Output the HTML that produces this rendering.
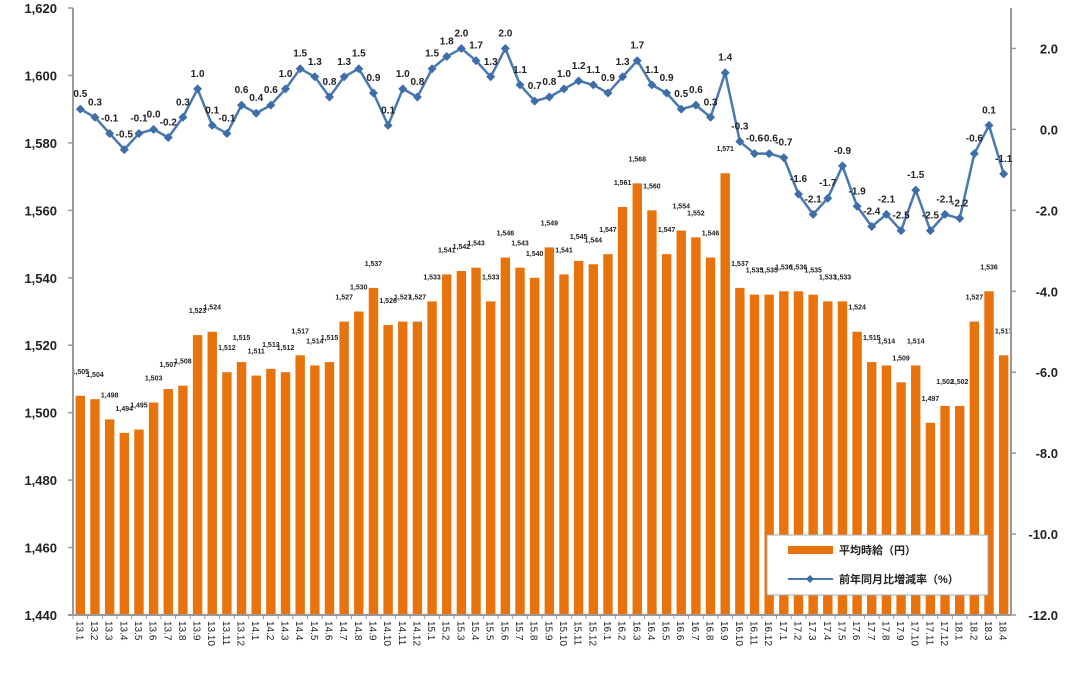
<!DOCTYPE html>
<html><head><meta charset="utf-8"><style>
body{margin:0;background:#fff;}
svg{display:block;font-family:"Liberation Sans","Noto Sans CJK JP",sans-serif;}
</style></head><body>
<svg id="c" width="1065" height="693"></svg>
<script>
const categories=["13.1","13.2","13.3","13.4","13.5","13.6","13.7","13.8","13.9","13.10","13.11","13.12","14.1","14.2","14.3","14.4","14.5","14.6","14.7","14.8","14.9","14.10","14.11","14.12","15.1","15.2","15.3","15.4","15.5","15.6","15.7","15.8","15.9","15.10","15.11","15.12","16.1","16.2","16.3","16.4","16.5","16.6","16.7","16.8","16.9","16.10","16.11","16.12","17.1","17.2","17.3","17.4","17.5","17.6","17.7","17.8","17.9","17.10","17.11","17.12","18.1","18.2","18.3","18.4"];
const wages=[1505,1504,1498,1494,1495,1503,1507,1508,1523,1524,1512,1515,1511,1513,1512,1517,1514,1515,1527,1530,1537,1526,1527,1527,1533,1541,1542,1543,1533,1546,1543,1540,1549,1541,1545,1544,1547,1561,1568,1560,1547,1554,1552,1546,1571,1537,1535,1535,1536,1536,1535,1533,1533,1524,1515,1514,1509,1514,1497,1502,1502,1527,1536,1517];
const rates=[0.5,0.3,-0.1,-0.5,-0.1,0.0,-0.2,0.3,1.0,0.1,-0.1,0.6,0.4,0.6,1.0,1.5,1.3,0.8,1.3,1.5,0.9,0.1,1.0,0.8,1.5,1.8,2.0,1.7,1.3,2.0,1.1,0.7,0.8,1.0,1.2,1.1,0.9,1.3,1.7,1.1,0.9,0.5,0.6,0.3,1.4,-0.3,-0.6,-0.6,-0.7,-1.6,-2.1,-1.7,-0.9,-1.9,-2.4,-2.1,-2.5,-1.5,-2.5,-2.1,-2.2,-0.6,0.1,-1.1];
const leftTicks=[1440,1460,1480,1500,1520,1540,1560,1580,1600,1620];
const rightTicks=[2,0,-2,-4,-6,-8,-10,-12];

const X0=73,X1=1011,Y0=615,Y1=8;
const band=(X1-X0)/categories.length;
const xc=i=>X0+band*(i+0.5);
const yL=v=>Y0-(v-1440)/(1620-1440)*(Y0-Y1);
const yR=v=>Y0-(v+12)/(15)*(Y0-Y1);
const svg=document.getElementById('c');
const NS='http://www.w3.org/2000/svg';
function mk(t,a,txt){const e=document.createElementNS(NS,t);for(const k in a)e.setAttribute(k,a[k]);if(txt!=null)e.textContent=txt;svg.appendChild(e);return e;}
const fmt=v=>v.toLocaleString('en-US');

// bars
wages.forEach((v,i)=>{
  const r=mk('rect',{x:xc(i)-4.7,y:yL(v),width:9.4,height:Y0-yL(v),fill:'#e8720c'});
  
  
  const t=mk('text',{x:xc(i),y:yL(v)-22,'font-size':7,'font-weight':'bold','text-anchor':'middle',fill:'#222'},fmt(v));
  
  
});
// axes
let a=mk('line',{x1:X0,y1:Y1,x2:X0,y2:Y0,stroke:'#999','stroke-width':2});

a=mk('line',{x1:X1,y1:Y1,x2:X1,y2:Y0,stroke:'#999','stroke-width':2});

a=mk('line',{x1:X0-5,y1:Y0,x2:X1,y2:Y0,stroke:'#999','stroke-width':2});

leftTicks.forEach(v=>{
  mk('line',{x1:X0-5,y1:yL(v),x2:X0,y2:yL(v),stroke:'#999','stroke-width':1.5});
  const t=mk('text',{x:57,y:yL(v)+5,'font-size':13,'font-weight':'bold','text-anchor':'end',fill:'#222'},fmt(v));
  
  
});
rightTicks.forEach(v=>{
  mk('line',{x1:X1,y1:yR(v),x2:X1+5,y2:yR(v),stroke:'#999','stroke-width':1.5});
  const t=mk('text',{x:1058,y:yR(v)+5,'font-size':13,'font-weight':'bold','text-anchor':'end',fill:'#222'},v.toFixed(1));
  
  
});
categories.forEach((c,i)=>{
  mk('line',{x1:X0+band*i,y1:Y0,x2:X0+band*i,y2:Y0+4,stroke:'#999'});
  const t=mk('text',{x:0,y:0,'font-size':10,fill:'#222',transform:`translate(${xc(i)-4},621) rotate(90)`},c);
  
  
});
// line
const pts=rates.map((v,i)=>xc(i)+','+yR(v)).join(' ');
const pl=mk('polyline',{points:pts,fill:'none',stroke:'#4a78b0','stroke-width':2.5});


rates.forEach((v,i)=>{
  const x=xc(i),y=yR(v);
  const m=mk('path',{d:`M${x},${y-4.5}L${x+4.5},${y}L${x},${y+4.5}L${x-4.5},${y}Z`,fill:'#3e6ea8'});
  
  
  const t=mk('text',{x:x,y:y-12,'font-size':10,'font-weight':'bold','text-anchor':'middle',fill:'#222'},v.toFixed(1));
  
  
});
// legend
const lg=mk('rect',{x:767,y:535,width:221,height:60,fill:'#fff',stroke:'#aaa'});


mk('rect',{x:788,y:546,width:45,height:8,fill:'#e8720c'});
let lt=mk('text',{x:839,y:554,'font-size':11,'font-weight':'bold',fill:'#222'},'平均時給（円）');


mk('line',{x1:788,y1:579,x2:833,y2:579,stroke:'#4a78b0','stroke-width':2});
mk('path',{d:'M810,575L814,579L810,583L806,579Z',fill:'#3e6ea8'});
lt=mk('text',{x:839,y:583,'font-size':11,'font-weight':'bold',fill:'#222'},'前年同月比増減率（%）');


</script>
</body></html>
